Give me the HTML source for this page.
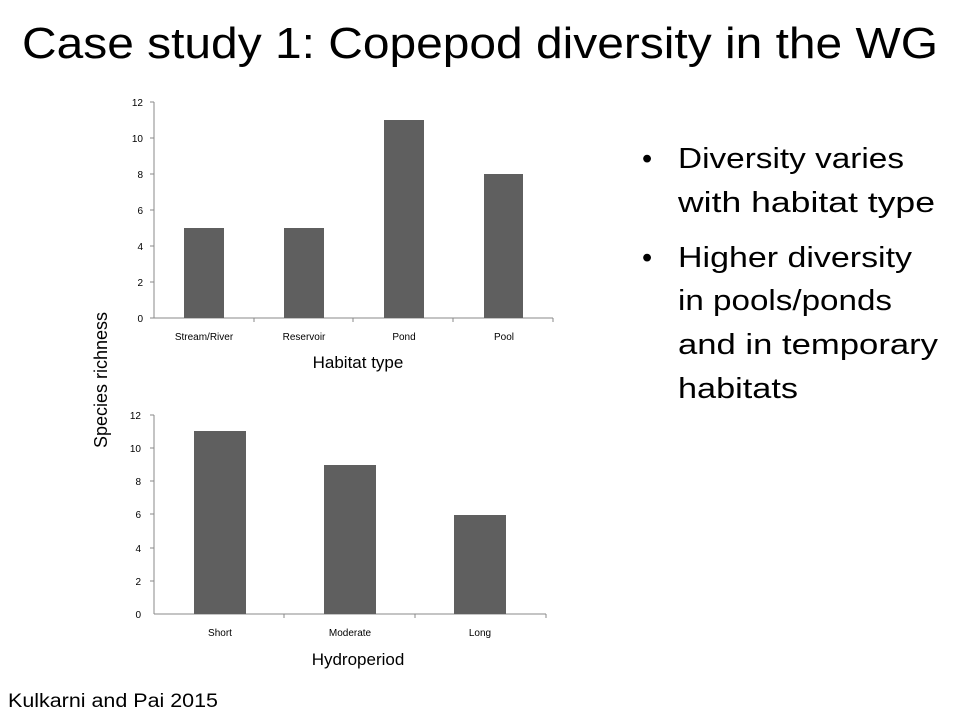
<!DOCTYPE html>
<html><head><style>
body{margin:0;background:#fff;}
svg text{font-family:"Liberation Sans",sans-serif;}
</style></head><body>
<svg width="960" height="720" xmlns="http://www.w3.org/2000/svg">
<text x="22" y="58" font-size="44" textLength="916" lengthAdjust="spacingAndGlyphs" fill="#000">Case study 1: Copepod diversity in the WG</text>
<!-- chart 1 -->
<g font-size="10" fill="#000">
<line x1="154" y1="102" x2="154" y2="318" stroke="#888"/>
<line x1="154" y1="318" x2="553" y2="318" stroke="#888"/>
<g stroke="#888">
<line x1="150" y1="102" x2="154" y2="102"/><line x1="150" y1="138" x2="154" y2="138"/><line x1="150" y1="174" x2="154" y2="174"/><line x1="150" y1="210" x2="154" y2="210"/><line x1="150" y1="246" x2="154" y2="246"/><line x1="150" y1="282" x2="154" y2="282"/><line x1="150" y1="318" x2="154" y2="318"/>
<line x1="254" y1="318" x2="254" y2="322"/><line x1="353" y1="318" x2="353" y2="322"/><line x1="453" y1="318" x2="453" y2="322"/><line x1="553" y1="318" x2="553" y2="322"/>
</g>
<g text-anchor="end">
<text x="143" y="106">12</text><text x="143" y="142">10</text><text x="143" y="178">8</text><text x="143" y="214">6</text><text x="143" y="250">4</text><text x="143" y="286">2</text><text x="143" y="322">0</text>
</g>
<rect x="184" y="228" width="40" height="90" fill="#5f5f5f"/>
<rect x="284" y="228" width="40" height="90" fill="#5f5f5f"/>
<rect x="384" y="120" width="40" height="198" fill="#5f5f5f"/>
<rect x="484" y="174" width="39" height="144" fill="#5f5f5f"/>
<g text-anchor="middle">
<text x="204" y="340">Stream/River</text><text x="304" y="340">Reservoir</text><text x="404" y="340">Pond</text><text x="504" y="340">Pool</text>
</g>
<text x="358" y="368" font-size="17" text-anchor="middle">Habitat type</text>
</g>
<!-- chart 2 -->
<g font-size="10" fill="#000">
<line x1="154" y1="415" x2="154" y2="614" stroke="#888"/>
<line x1="154" y1="614" x2="546" y2="614" stroke="#888"/>
<g stroke="#888">
<line x1="150" y1="415" x2="154" y2="415"/><line x1="150" y1="448" x2="154" y2="448"/><line x1="150" y1="481" x2="154" y2="481"/><line x1="150" y1="514" x2="154" y2="514"/><line x1="150" y1="548" x2="154" y2="548"/><line x1="150" y1="581" x2="154" y2="581"/>
<line x1="284" y1="614" x2="284" y2="618"/><line x1="415" y1="614" x2="415" y2="618"/><line x1="546" y1="614" x2="546" y2="618"/>
</g>
<g text-anchor="end">
<text x="141" y="419">12</text><text x="141" y="452">10</text><text x="141" y="485">8</text><text x="141" y="518">6</text><text x="141" y="552">4</text><text x="141" y="585">2</text><text x="141" y="618">0</text>
</g>
<rect x="194" y="431" width="52" height="183" fill="#5f5f5f"/>
<rect x="324" y="465" width="52" height="149" fill="#5f5f5f"/>
<rect x="454" y="515" width="52" height="99" fill="#5f5f5f"/>
<g text-anchor="middle">
<text x="220" y="636">Short</text><text x="350" y="636">Moderate</text><text x="480" y="636">Long</text>
</g>
<text x="358" y="665" font-size="17" text-anchor="middle">Hydroperiod</text>
</g>
<text transform="translate(107,380) rotate(-90)" font-size="18" text-anchor="middle">Species richness</text>
<g font-size="29" fill="#000">
<text x="642" y="168">•</text><text x="678" y="168" textLength="226" lengthAdjust="spacingAndGlyphs">Diversity varies</text>
<text x="678" y="212" textLength="257" lengthAdjust="spacingAndGlyphs">with habitat type</text>
<text x="642" y="267">•</text><text x="678" y="267" textLength="234" lengthAdjust="spacingAndGlyphs">Higher diversity</text>
<text x="678" y="310" textLength="214" lengthAdjust="spacingAndGlyphs">in pools/ponds</text>
<text x="678" y="354" textLength="260" lengthAdjust="spacingAndGlyphs">and in temporary</text>
<text x="678" y="398" textLength="120" lengthAdjust="spacingAndGlyphs">habitats</text>
</g>
<text x="8" y="707" font-size="19" textLength="210" lengthAdjust="spacingAndGlyphs">Kulkarni and Pai 2015</text>
</svg>
</body></html>
